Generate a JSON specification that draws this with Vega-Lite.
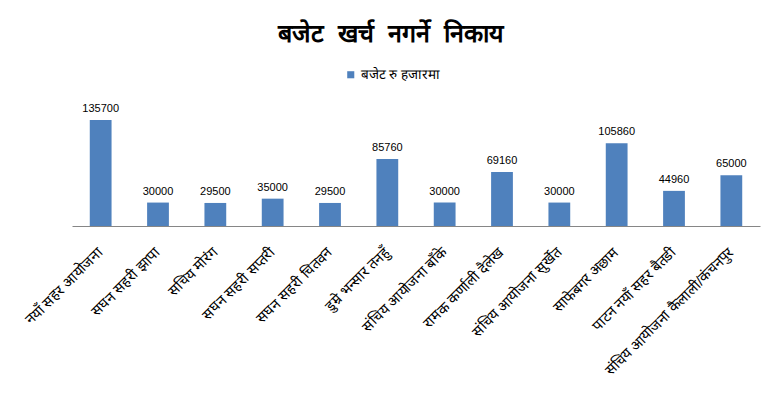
{
  "$schema": "https://vega.github.io/schema/vega-lite/v6.json",
  "width": 688,
  "height": 125,
  "autosize": {"type": "none"},
  "padding": {"left": 72, "top": 101, "right": 18, "bottom": 171},
  "background": "#ffffff",
  "title": {
    "text": "बजेट\u00a0 खर्च\u00a0 नगर्ने\u00a0 निकाय",
    "fontSize": 25,
    "fontWeight": "bold",
    "color": "#000000",
    "anchor": "middle",
    "dx": -25,
    "offset": 21
  },
  "data": {
    "values": [
      {"name": "नयाँ सहर आयोजना", "budget": 135700, "series": "बजेट रु हजारमा"},
      {"name": "सघन सहरी झापा", "budget": 30000, "series": "बजेट रु हजारमा"},
      {"name": "सचिय मोरंग", "budget": 29500, "series": "बजेट रु हजारमा"},
      {"name": "सघन सहरी सप्तरी", "budget": 35000, "series": "बजेट रु हजारमा"},
      {"name": "सघन सहरी चितवन", "budget": 29500, "series": "बजेट रु हजारमा"},
      {"name": "डुम्रे भन्सार तनहुँ", "budget": 85760, "series": "बजेट रु हजारमा"},
      {"name": "संचिय आयोजना बाँके", "budget": 30000, "series": "बजेट रु हजारमा"},
      {"name": "रामक कर्णाली दैलेख", "budget": 69160, "series": "बजेट रु हजारमा"},
      {"name": "संचिय आयोजना सुर्खेत", "budget": 30000, "series": "बजेट रु हजारमा"},
      {"name": "साफेबगर अछाम", "budget": 105860, "series": "बजेट रु हजारमा"},
      {"name": "पाटन नयाँ सहर बैतडी", "budget": 44960, "series": "बजेट रु हजारमा"},
      {"name": "संचिय आयोजना कैलाली/कंचनपुर", "budget": 65000, "series": "बजेट रु हजारमा"}
    ]
  },
  "encoding": {
    "x": {
      "field": "name",
      "type": "nominal",
      "sort": null,
      "title": null,
      "scale": {"paddingInner": 0.62, "paddingOuter": 0.31},
      "axis": {
        "labelAngle": -45,
        "labelAlign": "right",
        "labelBaseline": "middle",
        "labelFontSize": 14.5,
        "labelColor": "#000000",
        "labelPadding": 24,
        "labelLimit": 300,
        "ticks": false,
        "domainColor": "#868686",
        "domainWidth": 1
      }
    },
    "y": {
      "field": "budget",
      "type": "quantitative",
      "scale": {"domain": [0, 160000]},
      "axis": null
    }
  },
  "layer": [
    {
      "mark": {"type": "bar", "color": "#4F81BD"},
      "encoding": {
        "color": {
          "field": "series",
          "type": "nominal",
          "scale": {"range": ["#4F81BD"]},
          "legend": {
            "title": null,
            "orient": "none",
            "legendX": 272,
            "legendY": -33,
            "symbolType": "square",
            "symbolSize": 50,
            "labelFontSize": 13.5,
            "labelColor": "#000000",
            "labelOffset": 3
          }
        }
      }
    },
    {
      "mark": {"type": "text", "dy": -11, "fontSize": 11, "font": "Liberation Sans", "color": "#000000"},
      "encoding": {"text": {"field": "budget", "type": "quantitative", "format": "d"}}
    }
  ],
  "config": {
    "view": {"stroke": null},
    "axis": {"grid": false}
  }
}
